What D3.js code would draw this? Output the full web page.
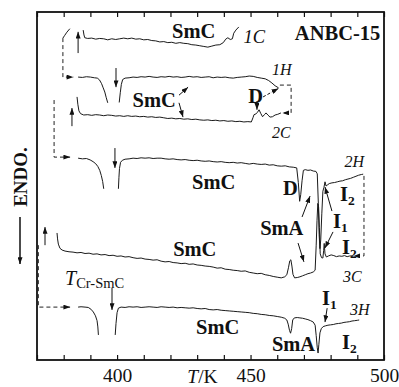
<!DOCTYPE html>
<html>
<head>
<meta charset="utf-8">
<script src="https://cdn.jsdelivr.net/npm/d3@7"></script>
<style>
  body { margin: 0; background: #fff; }
  svg { display: block; font-family: "Liberation Serif", "DejaVu Serif", serif; }
</style>
</head>
<body>
<div id="chart"></div>
<script>
// DSC traces of ANBC-15, T in K, heat flow in arbitrary units (endo down)
// each trace is split where the big peaks run off
const c1Low = [[379.7,92.5],[380.4,93.3],[381.2,94.2],[382.3,95.2]];
const c1Main = [[387.3,94.8],[387.6,93.4],[387.9,92.6],[389,92.4],[390.5,92.5],[392,92.2],[393.5,92.4],[395,92.3],[396.5,92.0],[398,92.3],[399.5,92.1],[401,92.3],[402.5,92.5],[404,92.3],[405.5,92.5],[407,92.2],[408.5,92.3],[410,92.0],[411.5,92.1],[413,91.8],[414.5,91.7],[416,91.4],[417.5,91.5],[419,91.2],[420.5,91.3],[422,91.0],[423.5,91.2],[425,91.0],[426.5,90.9],[428,90.6],[429.5,90.5],[431,90.3],[432.5,90.1],[434,89.9],[435.5,90.2],[437,90.5],[438.5,90.6],[439.8,91.2],[440.7,92.2],[441.5,92.6],[442.4,92.1],[443.2,92.3],[443.7,93.9],[444.5,94.8],[445.6,95.7]];

const h1Low = [[385.4,81.3],[387,81.2],[388.5,81.4],[390,81.3],[391.5,81.1],[392.6,81.0],[393.4,80.5],[394.2,79.4],[394.8,78.2],[395.4,77.0],[395.9,75.5],[396.5,73.9]];
const h1Main = [[400.8,74.0],[401.2,76.8],[401.6,79.2],[402.1,80.6],[403,81.0],[404.5,81.1],[406,81.3],[407.5,81.2],[409,81.4],[410.5,81.3],[412,81.5],[413.5,81.3],[415,81.2],[416.5,81.4],[418,81.3],[419.5,81.5],[421,81.3],[422.5,81.4],[424,81.2],[425.5,81.3],[427,81.5],[428.5,81.3],[430,81.4],[431.5,81.2],[433,81.3],[434.5,81.4],[436,81.1],[437.5,81.3],[439,81.2],[440.5,81.3],[442,81.1],[443.5,81.0],[445,81.2],[446.5,81.3],[448,81.4],[449.5,81.6],[451,81.5],[452.5,81.2],[454,81.0],[455.5,80.8],[456.8,80.3],[458,79.6],[459.2,78.8],[460.5,78.2]];

const c2Main = [[385.0,75.6],[385.3,73.5],[385.7,71.6],[386.3,70.8],[387.5,70.4],[389,70.5],[390.5,70.3],[392,70.5],[393.5,70.4],[395,70.2],[396.5,70.4],[398,70.3],[399.5,70.1],[401,70.2],[402.5,70.0],[404,70.2],[405.5,70.0],[407,70.1],[408.5,69.9],[410,70.0],[411.5,69.8],[413,69.9],[414.5,69.7],[416,69.8],[417.5,69.6],[419,69.4],[420.5,69.5],[422,69.3],[423.5,69.4],[425,69.2],[426.5,69.3],[428,69.1],[429.5,69.2],[431,69.0],[432.5,68.9],[434,69.0],[435.5,68.8],[437,68.9],[438.5,68.7],[440,68.8],[441.5,68.6],[443,68.7],[444.5,68.5],[446,68.6],[447.5,68.4],[449,68.5],[450.3,68.4],[450.9,69.6],[451.3,70.5],[452,70.7],[452.6,71.2],[453.2,71.9],[453.8,70.9],[454.5,69.9],[455.2,70.5],[455.8,71.0],[456.5,70.4],[457.3,69.8],[458.2,69.9],[459.2,70.4],[460.2,70.6],[461.4,71.0]];

const h2Low = [[385.4,58.0],[387,57.8],[388.5,57.9],[389.9,57.5],[391,57.0],[392,56.4],[392.8,55.6],[393.5,54.5],[394.1,53.0],[394.6,51.3],[395.0,49.2]];
const h2Main = [[400.5,49.2],[400.7,52.5],[400.9,55.0],[401.3,56.8],[402,57.4],[403,57.7],[404.5,57.8],[406,58.0],[407.5,57.9],[409,58.1],[410.5,58.0],[412,58.1],[413.5,57.9],[415,58.0],[416.5,58.0],[418,57.8],[419.5,57.7],[421,57.8],[422.5,57.6],[424,57.5],[425.5,57.6],[427,57.4],[428.5,57.3],[430,57.4],[431.5,57.2],[433,57.1],[434.5,57.2],[436,57.0],[437.5,56.9],[439,57.0],[440.5,56.8],[442,56.7],[443.5,56.8],[445,56.6],[446.5,56.7],[448,56.5],[449.5,56.3],[451,56.5],[452.5,56.3],[454,56.2],[455.5,56.3],[457,56.0],[458.5,56.1],[460,55.8],[461.5,55.7],[463,55.8],[464.5,55.5],[466,55.4],[467.3,55.2],[467.9,51.0],[468.4,45.6],[468.8,47.5],[469.3,51.5],[469.8,54.5],[470.5,54.7],[471.5,54.5],[472.5,54.6],[473.5,54.3],[474.5,54.2],[475.0,53.5],[475.4,45.0],[475.7,36.0],[476.0,32.0],[476.3,34.5],[476.7,42.0],[477.1,48.5],[477.5,49.6],[477.9,51.2],[478.3,50.0],[478.8,50.3],[479.5,50.7],[480.5,50.9],[481.5,51.0],[482.5,51.2],[483.5,51.4],[484.5,51.5],[485.5,51.8],[486.5,52.0],[487.5,52.2],[488.5,52.5],[489.5,52.8],[490.5,53.1],[491.5,53.3],[492.2,53.4]];

const c3Main = [[377.5,36.5],[377.7,34.8],[378.0,33.3],[378.6,32.1],[379.4,31.6],[380.5,31.3],[382,31.1],[383.5,31.0],[385,30.8],[386.5,30.9],[388,30.6],[389.5,30.7],[391,30.4],[392.5,30.5],[394,30.2],[395.5,30.3],[397,30.0],[398.5,30.1],[400,29.8],[401.5,29.9],[403,29.6],[404.5,29.7],[406,29.4],[407.5,29.2],[409,29.3],[410.5,29.0],[412,28.9],[413.5,28.7],[415,28.8],[416.5,28.4],[418,28.2],[419.5,28.3],[421,28.0],[422.5,27.9],[424,27.7],[425.5,27.8],[427,27.5],[428.5,27.6],[430,27.3],[431.5,27.2],[433,27.0],[434.5,26.9],[436,26.7],[437.5,26.4],[439,26.5],[440.5,26.1],[442,26.0],[443.5,25.8],[445,25.7],[446.5,25.5],[448,25.6],[449.5,25.2],[451,25.0],[452.5,24.8],[454,24.9],[455.5,24.5],[457,24.3],[458.5,24.0],[460,23.8],[461.5,23.6],[462.8,23.9],[463.6,24.5],[464.2,26.5],[464.7,28.5],[465.1,28.8],[465.5,27.0],[465.9,24.6],[466.5,23.6],[467.5,23.7],[468.5,23.9],[469.5,24.2],[470.5,24.5],[471.5,24.8],[472.5,25.0],[473.5,25.3],[474.2,25.8],[474.6,33.0],[474.9,40.0],[475.2,45.0],[475.5,44.0],[475.8,38.0],[476.1,30.5],[476.6,29.4],[477.1,29.3],[477.4,31.5],[477.6,33.5],[477.9,30.5],[478.4,29.6],[479.2,29.9],[480.2,30.2],[481.2,30.0],[482.2,29.7],[483.2,29.9],[484.2,29.8],[485.2,30.0],[486.2,29.7],[487.2,29.9],[488.2,29.9]];

const h3Low = [[385.4,15.2],[386.5,15.3],[388,15.2],[389.2,15.1],[390.2,14.6],[391.1,13.8],[391.9,12.7],[392.5,11.3],[392.8,9.5],[393.0,7.2]];
const h3Main = [[399.3,7.2],[399.6,10.5],[400.0,13.6],[400.5,14.9],[401.5,15.2],[403,15.1],[404.5,15.3],[406,15.2],[407.5,15.3],[409,15.1],[410.5,15.2],[412,15.3],[413.5,15.2],[415,15.1],[416.5,15.3],[418,15.2],[419.5,15.1],[421,15.2],[422.5,15.0],[424,15.1],[425.5,15.0],[427,14.9],[428.5,15.0],[430,14.8],[431.5,14.7],[433,14.8],[434.5,14.5],[436,14.4],[437.5,14.5],[439,14.3],[440.5,14.2],[442,14.1],[443.5,14.0],[445,13.9],[446.5,13.8],[448,13.7],[449.5,13.6],[451,13.4],[452.5,13.3],[454,13.1],[455.5,13.0],[457,12.8],[458.5,12.7],[460,12.5],[461.5,12.3],[462.8,12.0],[463.6,11.5],[464.1,10.3],[464.6,8.5],[465.0,7.7],[465.4,9.0],[465.8,11.5],[466.4,12.1],[467.5,12.2],[468.5,12.1],[469.5,12.0],[470.5,11.8],[471.5,11.6],[472.5,11.3],[473.5,10.9],[474.2,10.0],[474.6,7.0],[475.0,3.5],[475.3,2.0],[475.6,4.5],[476.0,7.8],[476.5,9.0],[477.2,9.6],[478,9.8],[479,10.0],[480,10.1],[481,10.2],[482,10.4],[483,10.5],[484,10.6],[485,10.8],[486,10.9],[487,11.0],[488,11.2],[489,11.3],[490,11.4],[490.7,11.5]];

const traces = [c1Low, c1Main, h1Low, h1Main, c2Main, h2Low, h2Main, c3Main, h3Low, h3Main];

// dashed links between runs (arrow at the end)
const links = [
  [[379.7,92.5],[379.7,81.3],[383.6,81.3]],
  [[461.0,79.0],[465.2,79.0],[465.2,71.0],[462.0,71.0]],
  [[376.4,74.7],[376.4,58.3],[382.4,58.3]],
  [[492.5,52.9],[492.5,29.9],[488.6,29.9]],
  [[370.5,33.0],[370.5,15.2],[382.4,15.2]]
];

// transition arrows [from, to]
const pointers = [
  [[385.4,88.2],[385.4,94.3]],
  [[399.6,83.9],[399.6,78.4]],
  [[383.1,67.2],[383.1,72.4]],
  [[399.2,60.9],[399.2,55.2]],
  [[373.0,33.0],[373.0,38.2]],
  [[398.1,20.7],[398.1,14.4]],
  [[452.4,74.3],[452.4,71.9]],
  [[423.2,76.1],[426.6,78.4]],
  [[423.2,73.9],[424.7,69.8]],
  [[469.3,41.1],[472.3,47.1]],
  [[467.8,33.6],[470.0,28.2]],
  [[480.5,42.8],[477.9,49.7]],
  [[480.9,36.8],[477.9,32.2]],
  [[478.7,14.9],[477.9,10.9]]
];
const dashedPointers = [[[454.7,75.6],[460.4,78.0]]];

// phase labels [text, sub, T, value, style]
const labels = [
  ["SmC", "", 420.6, 92.5, "b"],
  ["1C", "", 447.4, 91.1, "i"],
  ["ANBC-15", "", 466.6, 92.0, "b"],
  ["1H", "", 458.0, 81.9, "is"],
  ["SmC", "", 405.8, 72.7, "b"],
  ["D", "", 449.1, 73.9, "b"],
  ["2C", "", 458.0, 63.8, "is"],
  ["SmC", "", 428.1, 49.1, "b"],
  ["D", "", 462.2, 47.4, "b"],
  ["2H", "", 485.2, 55.5, "is"],
  ["I", "2", 483.5, 45.6, "b"],
  ["SmA", "", 453.6, 35.9, "b"],
  ["I", "1", 480.9, 37.8, "b"],
  ["I", "2", 484.3, 30.4, "b"],
  ["SmC", "", 421.0, 29.9, "b"],
  ["3C", "", 484.6, 22.4, "is"],
  ["SmC", "", 429.6, 7.5, "b"],
  ["SmA", "", 458.0, 2.6, "b"],
  ["I", "1", 476.8, 15.8, "b"],
  ["I", "2", 484.3, 3.2, "b"],
  ["3H", "", 487.3, 12.9, "is"]
];

const xTicks = d3.range(370, 501, 10);
const xLabels = [400, 450, 500];

const W = 399, H = 387;
const margin = {top: 12, right: 15, bottom: 27, left: 37};
const x = d3.scaleLinear().domain([370, 500]).range([margin.left, W - margin.right]);
const y = d3.scaleLinear().domain([0, 100]).range([H - margin.bottom, margin.top]);

const svg = d3.select("#chart").append("svg")
  .attr("width", W).attr("height", H);

svg.append("rect").attr("width", W).attr("height", H).attr("fill", "#fff");

const defs = svg.append("defs");
defs.append("marker")
  .attr("id", "head")
  .attr("markerUnits", "userSpaceOnUse")
  .attr("viewBox", "0 0 8 6")
  .attr("refX", 8).attr("refY", 3)
  .attr("markerWidth", 7).attr("markerHeight", 5)
  .attr("orient", "auto")
  .append("path").attr("d", "M0,0L8,3L0,6Z").attr("fill", "#111");

const line = d3.line().x(d => x(d[0])).y(d => y(d[1]));

// axes
svg.append("g")
  .attr("transform", `translate(0,${y(0)})`)
  .call(d3.axisBottom(x).tickValues(xTicks).tickSize(-5).tickPadding(8)
    .tickFormat(d => xLabels.includes(d) ? d : ""))
  .call(g => g.select(".domain").remove())
  .call(g => g.selectAll("text").attr("font-size", 19.5).attr("font-family", "Liberation Serif").attr("fill", "#111"))
  .call(g => g.selectAll("line").attr("stroke", "#111").attr("stroke-width", 1.2));

svg.append("g")
  .attr("transform", `translate(0,${y(100)})`)
  .call(d3.axisTop(x).tickValues(xTicks).tickSize(-5).tickFormat(""))
  .call(g => g.select(".domain").remove())
  .call(g => g.selectAll("line").attr("stroke", "#111").attr("stroke-width", 1.2));

svg.append("rect")
  .attr("x", x(370)).attr("y", y(100))
  .attr("width", x(500) - x(370)).attr("height", y(0) - y(100))
  .attr("fill", "none").attr("stroke", "#111").attr("stroke-width", 1.8);

// traces
svg.append("g").selectAll("path").data(traces).join("path")
  .attr("d", line)
  .attr("fill", "none").attr("stroke", "#1a1a1a").attr("stroke-width", 1)
  .attr("stroke-linejoin", "round");

svg.append("g").selectAll("path").data(links).join("path")
  .attr("d", line)
  .attr("fill", "none").attr("stroke", "#222").attr("stroke-width", 1)
  .attr("stroke-dasharray", "4,3")
  .attr("marker-end", "url(#head)");

svg.append("g").selectAll("path").data(pointers).join("path")
  .attr("d", line)
  .attr("fill", "none").attr("stroke", "#111").attr("stroke-width", 1)
  .attr("marker-end", "url(#head)");

svg.append("g").selectAll("path").data(dashedPointers).join("path")
  .attr("d", line)
  .attr("fill", "none").attr("stroke", "#111").attr("stroke-width", 1)
  .attr("stroke-dasharray", "3,2")
  .attr("marker-end", "url(#head)");

// labels
const lab = svg.append("g").attr("fill", "#111");
labels.forEach(([t, sub, tx, v, st]) => {
  const txt = lab.append("text")
    .attr("x", x(tx)).attr("y", y(v))
    .attr("font-size", st === "b" ? 20.5 : st === "i" ? 18.5 : 16)
    .attr("font-weight", st === "b" ? "bold" : "normal")
    .attr("font-style", st === "b" ? "normal" : "italic")
    .text(t);
  if (sub) {
    txt.append("tspan").attr("font-size", 13.5).attr("dy", 4).text(sub);
  }
});

// T_Cr-SmC
const tcr = lab.append("text").attr("x", x(380.5)).attr("y", y(21.6));
tcr.append("tspan").attr("font-size", 20).attr("font-style", "italic").text("T");
tcr.append("tspan").attr("font-size", 14.5).attr("dy", 3).text("Cr-SmC");

// x title
const xt = svg.append("text").attr("x", x(426.3)).attr("y", H - 4).attr("fill", "#111").attr("font-size", 19.5);
xt.append("tspan").attr("font-style", "italic").text("T");
xt.append("tspan").text("/K");

// y title
svg.append("text")
  .attr("transform", `translate(27,177) rotate(-90)`)
  .attr("text-anchor", "middle")
  .attr("font-size", 19).attr("font-weight", "bold").attr("fill", "#111")
  .text("ENDO.");
svg.append("line")
  .attr("x1", 20).attr("y1", 217).attr("x2", 20).attr("y2", 264)
  .attr("stroke", "#111").attr("stroke-width", 1.5)
  .attr("marker-end", "url(#head)");
</script>
</body>
</html>
